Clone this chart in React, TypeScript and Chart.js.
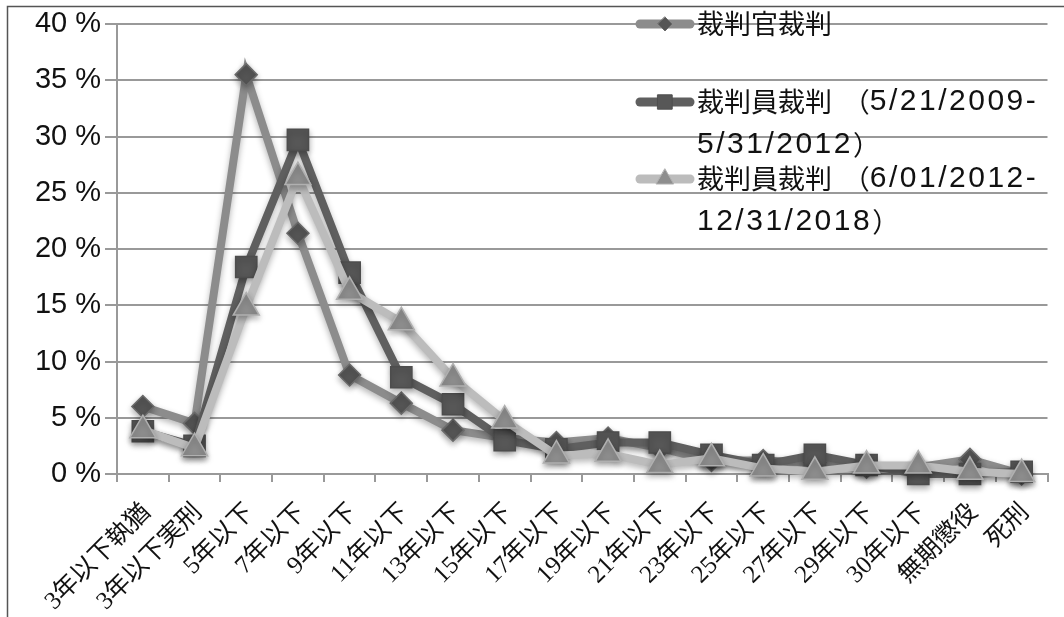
import React, { useEffect, useRef } from "react";
import { Chart, registerables } from "chart.js";

Chart.register(...registerables);

const categories = [
  "3年以下執猶", "3年以下実刑", "5年以下", "7年以下", "9年以下", "11年以下",
  "13年以下", "15年以下", "17年以下", "19年以下", "21年以下", "23年以下",
  "25年以下", "27年以下", "29年以下", "30年以下", "無期懲役", "死刑",
];

const judgeTrial = [6.0, 4.5, 35.5, 21.4, 8.8, 6.3, 3.9, 3.2, 2.8, 3.2, 2.3, 1.2, 1.2, 1.0, 0.6, 0.6, 1.3, 0.0];
const layJudge2009 = [3.8, 2.5, 18.4, 29.7, 17.9, 8.6, 6.2, 3.0, 2.2, 2.8, 2.8, 1.7, 0.8, 1.7, 0.8, 0.0, 0.0, 0.2];
const layJudge2012 = [3.9, 2.3, 14.8, 26.4, 16.2, 13.5, 8.5, 4.75, 1.65, 1.8, 0.8, 1.4, 0.5, 0.2, 0.75, 0.75, 0.2, 0.0];

const legendLabels = [
  ["裁判官裁判"],
  ["裁判員裁判 （5/21/2009-", "5/31/2012）"],
  ["裁判員裁判 （6/01/2012-", "12/31/2018）"],
];

const yTicks = [0, 5, 10, 15, 20, 25, 30, 35, 40];

const SANS = '"Liberation Sans", "Noto Sans CJK JP", sans-serif';
const CJK = '"Noto Sans CJK JP", sans-serif';
const SERIF = '"Liberation Serif", "Noto Sans CJK JP", serif';

const styles = [
  { line: "#8c8c8c", fill: "#555555", border: "#6a6a6a", point: "rectRot", r: 11, lr: 7 },
  { line: "#5f5f5f", fill: "#575757", border: "#4d4d4d", point: "rect", r: 15, lr: 10 },
  { line: "#bcbcbc", fill: "#8e8e8e", border: "#b0b0b0", point: "triangle", r: 15, lr: 10 },
];

const framePlugin = {
  id: "frame",
  beforeDraw(chart: any) {
    const ctx = chart.ctx;
    ctx.save();
    ctx.strokeStyle = "#555";
    ctx.lineWidth = 1.5;
    ctx.beginPath();
    ctx.moveTo(7.5, 617);
    ctx.lineTo(7.5, 6.5);
    ctx.lineTo(1064, 6.5);
    ctx.stroke();
    ctx.restore();
  },
};

const shadowPlugin = {
  id: "shadow",
  beforeDatasetDraw(chart: any) {
    const ctx = chart.ctx;
    ctx.save();
    ctx.shadowColor = "rgba(0,0,0,0.3)";
    ctx.shadowBlur = 6;
    ctx.shadowOffsetY = 3;
  },
  afterDatasetDraw(chart: any) {
    chart.ctx.restore();
  },
};

function isCJK(ch: string) {
  return ch.charCodeAt(0) >= 0x2e80;
}

function drawRuns(ctx: any, text: string, x: number, y: number) {
  const runs: { cjk: boolean; s: string }[] = [];
  for (const ch of text) {
    const c = isCJK(ch);
    if (runs.length && runs[runs.length - 1].cjk === c) runs[runs.length - 1].s += ch;
    else runs.push({ cjk: c, s: ch });
  }
  let cx = x;
  runs.forEach((r) => {
    if (r.cjk) {
      ctx.font = `27px ${CJK}`;
      ctx.letterSpacing = "0px";
    } else {
      ctx.font = `30px ${SANS}`;
      ctx.letterSpacing = "2.5px";
    }
    ctx.fillText(r.s, cx, y);
    cx += ctx.measureText(r.s).width;
  });
  ctx.letterSpacing = "0px";
}

const legendPlugin = {
  id: "customLegend",
  afterDraw(chart: any) {
    const ctx = chart.ctx;
    const rows = [24, 102, 179];
    const x0 = 635;
    const x1 = 695;
    const tx = 697;
    ctx.save();
    legendLabels.forEach((lines, i) => {
      const st = styles[i];
      const y = rows[i];
      ctx.strokeStyle = st.line;
      ctx.lineWidth = 9;
      ctx.lineCap = "round";
      ctx.beginPath();
      ctx.moveTo(x0 + 5, y);
      ctx.lineTo(x1 - 5, y);
      ctx.stroke();
      ctx.fillStyle = st.fill;
      ctx.strokeStyle = st.border;
      ctx.lineWidth = 1;
      const cx = (x0 + x1) / 2;
      ctx.beginPath();
      if (st.point === "rectRot") {
        const r = st.lr;
        ctx.moveTo(cx, y - r);
        ctx.lineTo(cx + r, y);
        ctx.lineTo(cx, y + r);
        ctx.lineTo(cx - r, y);
        ctx.closePath();
      } else if (st.point === "rect") {
        const h = st.lr * 0.72;
        ctx.rect(cx - h, y - h, 2 * h, 2 * h);
      } else {
        const r = st.lr;
        ctx.moveTo(cx, y - r);
        ctx.lineTo(cx + r * 0.866, y + r / 2);
        ctx.lineTo(cx - r * 0.866, y + r / 2);
        ctx.closePath();
      }
      ctx.fill();
      ctx.stroke();
      ctx.fillStyle = "#111";
      ctx.textBaseline = "middle";
      ctx.textAlign = "left";
      lines.forEach((t, j) => {
        drawRuns(ctx, t, tx, y + j * 43);
      });
    });
    ctx.restore();
  },
};

export default function App() {
  const ref = useRef<HTMLCanvasElement | null>(null);

  useEffect(() => {
    if (!ref.current) return;
    const datasets = [judgeTrial, layJudge2009, layJudge2012].map((data, i) => {
      const st = styles[i];
      return {
        label: legendLabels[i].join(""),
        data,
        borderColor: st.line,
        backgroundColor: st.fill,
        borderWidth: 8,
        pointStyle: st.point,
        pointRadius: st.r,
        pointBackgroundColor: st.fill,
        pointBorderColor: st.border,
        pointBorderWidth: 1.5,
        tension: 0,
        clip: false as any,
        order: 3 - i,
      };
    });
    const chart = new Chart(ref.current, {
      type: "line",
      data: { labels: categories, datasets: datasets as any },
      options: {
        responsive: false,
        animation: false,
        layout: { padding: { left: 0, top: 24, right: 8, bottom: 0 } },
        plugins: {
          legend: { display: false },
          tooltip: { enabled: false },
        },
        scales: {
          x: {
            offset: true,
            grid: {
              offset: true,
              drawOnChartArea: false,
              drawTicks: true,
              tickLength: 8,
              color: "#999",
              lineWidth: 2,
            },
            border: { color: "#999", width: 2 },
            ticks: {
              autoSkip: false,
              maxRotation: 45,
              minRotation: 45,
              color: "#111",
              padding: 16,
              labelOffset: 4,
              font: { family: SERIF, size: 25 },
            },
            afterFit: (s: any) => {
              s.height = 143;
            },
          },
          y: {
            min: 0,
            max: 40,
            afterBuildTicks: (s: any) => {
              s.ticks = yTicks.map((v) => ({ value: v }));
            },
            grid: { color: "#999", lineWidth: 2, tickLength: 12 },
            border: { color: "#999", width: 2 },
            ticks: {
              color: "#111",
              padding: 4,
              font: { family: SANS, size: 29 },
              callback: (v: any) => `${v} %`,
            },
            afterFit: (s: any) => {
              s.width = 117;
            },
          },
        },
      },
      plugins: [framePlugin, shadowPlugin, legendPlugin],
    });
    return () => chart.destroy();
  }, []);

  return (
    <div style={{ position: "absolute", left: 0, top: 0, width: 1064, height: 617, background: "#fff" }}>
      <canvas ref={ref} width={1064} height={617} style={{ width: 1064, height: 617 }} />
    </div>
  );
}
